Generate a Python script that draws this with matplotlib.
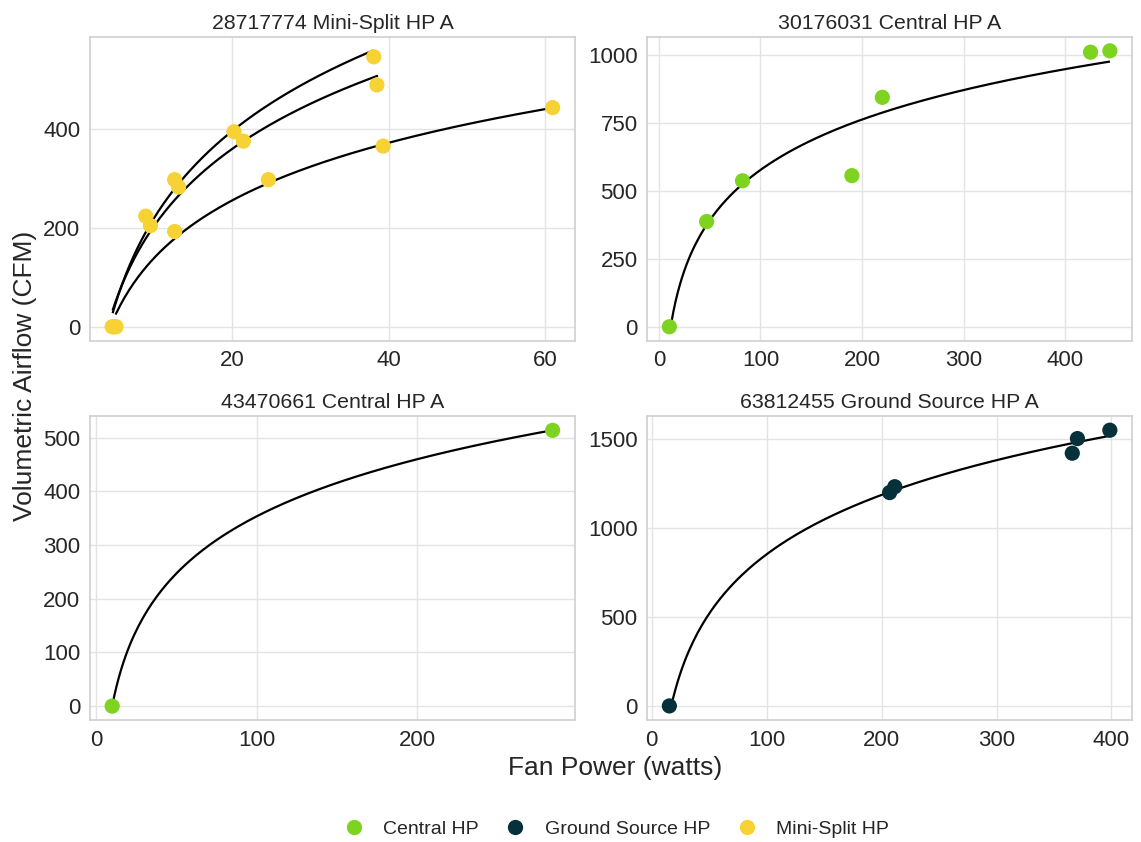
import numpy as np
import matplotlib
matplotlib.use("Agg")
import matplotlib.pyplot as plt
from matplotlib.lines import Line2D

plt.rcParams["font.family"] = ["Liberation Sans", "DejaVu Sans"]
plt.rcParams["text.color"] = "#262626"
plt.rcParams["xtick.color"] = "#262626"
plt.rcParams["ytick.color"] = "#262626"

COLORS = {
    "Central HP": "#7ed321",
    "Ground Source HP": "#06303a",
    "Mini-Split HP": "#f6d234",
}

# panel titles and the heat pump type of each unit
TITLES = [
    "28717774 Mini-Split HP A",
    "30176031 Central HP A",
    "43470661 Central HP A",
    "63812455 Ground Source HP A",
]
TYPES = ["Mini-Split HP", "Central HP", "Central HP", "Ground Source HP"]

# measured points: fan power (W) and airflow (CFM)
mini_watts = [4.6, 4.8, 5.1, 8.9, 9.5, 12.6, 12.6, 13.1, 20.2, 21.4, 24.6, 38.1, 38.5, 39.3, 61.0]
mini_cfm = [0, 0, 0, 224, 205, 298, 193, 283, 395, 376, 298, 547, 490, 366, 444]

central1_watts = [10.3, 47, 82.3, 190, 220, 425, 444]
central1_cfm = [0, 387, 537, 556, 844, 1010, 1015]

central2_watts = [10, 284.3]
central2_cfm = [0, 513.7]

ground_watts = [15.4, 207, 211.5, 365.9, 370.4, 398.6]
ground_cfm = [0, 1197, 1230, 1418, 1500, 1547]

# log fits cfm = a * ln(watts) + b, one per fan curve: (a, b, watts_min, watts_max)
mini_fits = [
    (253.6, -362.8, 4.7, 37.9),
    (224.8, -312.7, 4.7, 38.5),
    (168.0, -247.0, 5.1, 61.0),
]
central1_fits = [(267.5, -655.0, 12.0, 443.0)]
central2_fits = [(153.5, -353.4, 10.0, 284.3)]
ground_fits = [(480.7, -1363.0, 17.0, 398.6)]

panels = [
    (mini_watts, mini_cfm, mini_fits),
    (central1_watts, central1_cfm, central1_fits),
    (central2_watts, central2_cfm, central2_fits),
    (ground_watts, ground_cfm, ground_fits),
]

Y_TICKS = [
    [0, 200, 400],
    [0, 250, 500, 750, 1000],
    [0, 100, 200, 300, 400, 500],
    [0, 500, 1000, 1500],
]
X_TICKS = [
    [20, 40, 60],
    [0, 100, 200, 300, 400],
    [0, 100, 200],
    [0, 100, 200, 300, 400],
]


def main():
    fig, axes = plt.subplots(2, 2, figsize=(11.41, 8.42), dpi=100)
    fig.subplots_adjust(left=0.079, right=0.992, top=0.956, bottom=0.145,
                        wspace=0.15, hspace=0.25)

    for ax, title, kind, (xs, ys, fits), yt, xt in zip(
            axes.flat, TITLES, TYPES, panels, Y_TICKS, X_TICKS):
        for a, b, lo, hi in fits:
            xx = np.linspace(lo, hi, 200)
            ax.plot(xx, a * np.log(xx) + b, color="black", lw=1.6, zorder=2)
        ax.scatter(xs, ys, s=120, color=COLORS[kind], edgecolors="none", zorder=3)

        ax.set_title(title, fontsize=15.3, pad=6)
        ax.set_xticks(xt)
        ax.set_yticks(yt)
        ax.tick_params(labelsize=16, length=0, pad=7)
        ax.grid(color="#e4e4e4", lw=1)
        ax.set_axisbelow(True)
        for sp in ax.spines.values():
            sp.set_color("#cfcfcf")
            sp.set_linewidth(1.2)

    fig.text(0.539, 0.088, "Fan Power (watts)", ha="center", va="center", fontsize=19)
    fig.text(0.022, 0.553, "Volumetric Airflow (CFM)", ha="center", va="center",
             rotation=90, fontsize=19)

    handles = [Line2D([], [], marker="o", ls="none", markersize=11,
                      markerfacecolor=c, markeredgecolor="none", label=k)
               for k, c in COLORS.items()]
    fig.legend(handles=handles, loc="center", bbox_to_anchor=(0.536, 0.015),
               ncol=3, frameon=False, fontsize=14, handletextpad=0.5,
               columnspacing=0.9)

    fig.savefig("out.png", dpi=100, facecolor="white")


if __name__ == "__main__":
    main()
